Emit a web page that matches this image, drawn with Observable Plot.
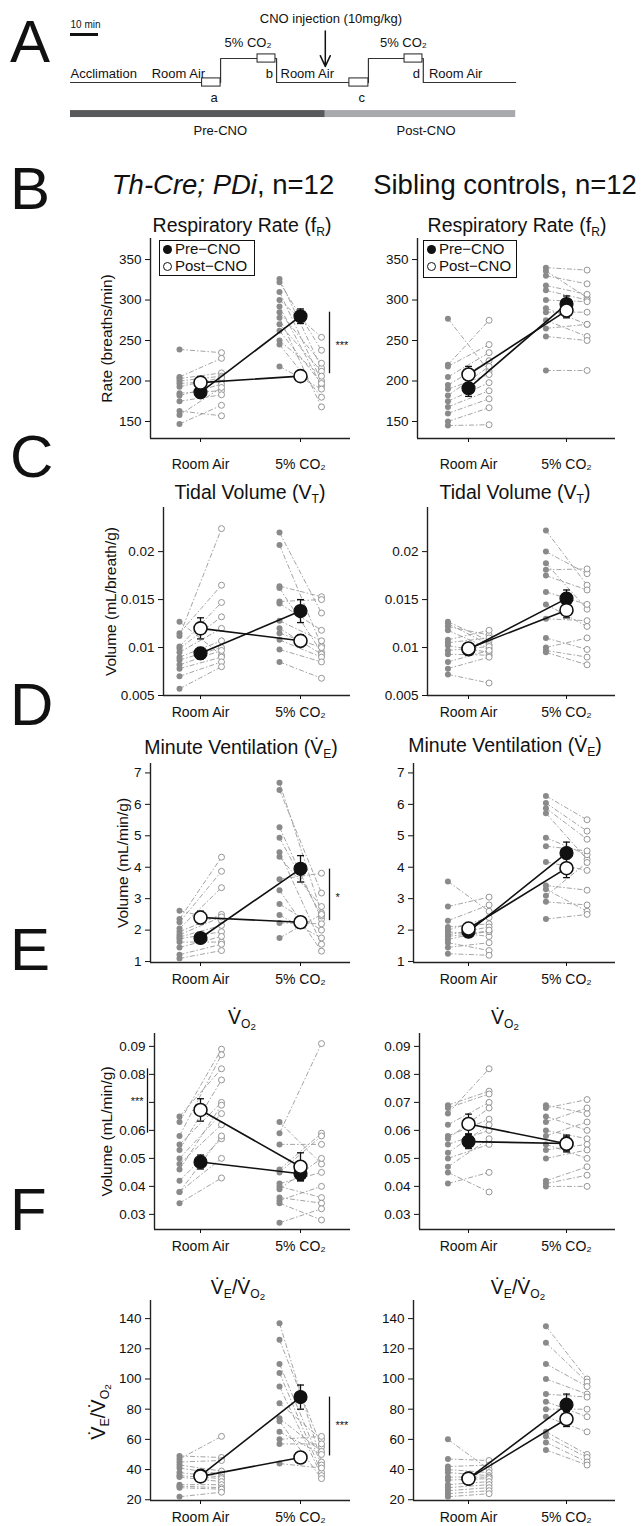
<!DOCTYPE html>
<html><head><meta charset="utf-8">
<script src="https://cdn.jsdelivr.net/npm/d3@7"></script>
<script src="https://cdn.jsdelivr.net/npm/@observablehq/plot@0.6"></script>
<style>
body{margin:0;background:#fff;font-family:"Liberation Sans",Arial,sans-serif;color:#111;}
#fig{position:relative;width:641px;height:1526px;overflow:hidden;background:#fff;}
.t{position:absolute;transform:translate(-50%,-50%);white-space:nowrap;line-height:1;}
.ttl{font-size:19.5px;}
.hdr{font-size:27.5px;}
.let{position:absolute;font-size:60px;line-height:1;transform:translateY(-50%);}
sub{font-size:0.62em;vertical-align:-0.35em;line-height:0;}
sub sub{font-size:0.8em;vertical-align:-0.2em;}
.leg{position:absolute;border:1.5px solid #111;font-size:15px;line-height:16.5px;padding:0 3px;box-sizing:border-box;white-space:nowrap;}
.leg span.c{display:inline-block;width:9px;height:9px;border-radius:50%;margin-right:3px;vertical-align:0px;box-sizing:border-box;}
</style></head>
<body><div id="fig"></div>
<script>
// ---------- Data ----------
const conditions = ["Room Air", "5% CO₂"];
// each row = one animal: [pre-CNO room air, post-CNO room air, pre-CNO 5% CO2, post-CNO 5% CO2]
const rateThCre = [[239,235,326,216],[205,228,322,238],[203,210,310,200],[200,206,300,254],[197,200,292,194],[193,204,285,222],[185,188,278,168],[182,196,270,212],[175,183,262,197],[163,157,250,206],[158,192,245,180],[147,170,218,190]];
const rateThCreMean = [186, 198, 280, 206];
const rateThCreSem = [6, 7, 9, 5];
const rateSib = [[277,212,340,337],[220,275,336,303],[218,245,330,320],[205,235,318,307],[195,225,312,300],[190,208,300,298],[182,218,290,270],[175,198,285,285],[168,188,275,255],[160,178,265,270],[150,167,255,250],[145,146,213,213]];
const rateSibMean = [191, 208, 295, 287];
const rateSibSem = [10, 10, 10, 9];

const vtThCre = [[0.0112,0.0224,0.022,0.0136],[0.0127,0.0092,0.0207,0.0102],[0.0115,0.0165,0.0164,0.0153],[0.0101,0.0147,0.0162,0.0095],[0.0099,0.0132,0.0148,0.015],[0.0095,0.012,0.0146,0.0118],[0.009,0.0107,0.0128,0.0107],[0.0087,0.01,0.012,0.0093],[0.0082,0.0097,0.0115,0.01],[0.0078,0.009,0.0108,0.009],[0.007,0.0085,0.0098,0.0085],[0.0057,0.008,0.0085,0.0068]];
const vtThCreMean = [0.0094, 0.0120, 0.0138, 0.0107];
const vtThCreSem = [0.0006, 0.0011, 0.0012, 0.0006];
const vtSib = [[0.0127,0.0107,0.0222,0.0165],[0.0125,0.0103,0.02,0.0177],[0.0122,0.0113,0.0188,0.014],[0.0118,0.0099,0.0181,0.0182],[0.0108,0.0118,0.0175,0.016],[0.0105,0.011,0.0158,0.0145],[0.0102,0.0095,0.0145,0.0122],[0.0097,0.0101,0.013,0.0128],[0.0093,0.0092,0.011,0.0098],[0.0085,0.0097,0.01,0.011],[0.0078,0.009,0.0097,0.009],[0.0072,0.0063,0.0095,0.0082]];
const vtSibMean = [0.0098, 0.0099, 0.0151, 0.0139];
const vtSibSem = [0.0005, 0.0004, 0.0009, 0.0008];

const veThCre = [[2.62,2.3,6.69,2.55],[2.35,4.32,6.46,3.18],[2.25,3.87,5.27,2.35],[2.05,3.35,4.94,2.45],[1.95,2.5,4.48,1.55],[1.85,2.42,4.33,2.75],[1.78,2.15,3.62,3.81],[1.72,1.95,3.27,1.33],[1.62,1.62,2.83,2.0],[1.45,1.8,2.48,1.75],[1.22,1.55,2.23,2.2],[1.1,1.35,1.75,2.5]];
const veThCreMean = [1.75, 2.4, 3.95, 2.25];
const veThCreSem = [0.13, 0.2, 0.42, 0.15];
const veSib = [[3.55,2.6,6.27,5.51],[2.75,3.05,6.04,5.15],[2.3,2.8,5.88,4.89],[2.1,2.2,5.72,4.25],[2.0,2.4,4.94,4.4],[1.95,1.8,4.67,4.52],[1.85,2.1,4.17,3.9],[1.8,1.95,3.42,3.27],[1.7,2.0,3.3,2.6],[1.6,1.35,3.09,4.15],[1.45,1.6,2.9,2.8],[1.25,1.2,2.35,2.5]];
const veSibMean = [1.95, 2.05, 4.45, 3.97];
const veSibSem = [0.15, 0.15, 0.35, 0.3];

const vo2ThCre = [[0.065,0.082,0.063,0.048],[0.063,0.089,0.059,0.091],[0.058,0.087,0.055,0.055],[0.055,0.07,0.046,0.059],[0.053,0.078,0.045,0.058],[0.05,0.066,0.041,0.045],[0.048,0.062,0.04,0.036],[0.046,0.069,0.039,0.05],[0.042,0.057,0.036,0.034],[0.038,0.058,0.035,0.04],[0.038,0.05,0.034,0.028],[0.034,0.043,0.027,0.032]];
const vo2ThCreMean = [0.0487, 0.0673, 0.0445, 0.047];
const vo2ThCreSem = [0.0025, 0.004, 0.0025, 0.005];
const vo2Sib = [[0.069,0.074,0.069,0.066],[0.068,0.073,0.068,0.071],[0.066,0.082,0.065,0.06],[0.062,0.07,0.063,0.068],[0.058,0.064,0.06,0.057],[0.057,0.068,0.058,0.063],[0.055,0.06,0.055,0.05],[0.052,0.062,0.053,0.055],[0.05,0.055,0.05,0.053],[0.047,0.057,0.042,0.047],[0.045,0.038,0.041,0.044],[0.041,0.045,0.04,0.04]];
const vo2SibMean = [0.056, 0.0623, 0.0553, 0.0552];
const vo2SibSem = [0.0025, 0.0035, 0.003, 0.0025];

const ratioThCre = [[49,48,137,45],[47,62,126,55],[45,46,110,43],[43,39,104,38],[41,37,95,36],[38,35,84,60],[36,34,74,52],[35,32,72,34],[30,30,65,50],[29,28,60,62],[28,27,57,57],[22,25,44,41]];
const ratioThCreMean = [36, 35.5, 88, 48];
const ratioThCreSem = [2.5, 2.8, 8, 3];
const ratioSib = [[60,40,135,100],[47,46,124,98],[42,43,110,95],[40,38,100,90],[38,36,90,88],[35,35,85,75],[33,34,80,80],[30,32,75,65],[28,30,65,50],[26,28,62,48],[24,26,58,45],[22,24,53,43]];
const ratioSibMean = [34, 34, 83, 73.5];
const ratioSibSem = [3, 2, 7, 5];

// tick values
const rateTicks = [150, 200, 250, 300, 350];
const vtTicks = [0.005, 0.01, 0.015, 0.02];
const veTicks = [1, 2, 3, 4, 5, 6, 7];
const vo2Ticks = [0.03, 0.04, 0.05, 0.06, 0.07, 0.08, 0.09];
const ratioTicks = [20, 40, 60, 80, 100, 120, 140];

// protocol (panel A), times in minutes
const protocolTrace = [{t:0,level:0},{t:53.6,level:1},{t:73.6,level:0},{t:106.4,level:1},{t:126,level:0},{t:159,level:0}];
const recordWindows = [{start:47,end:53.6,level:0,label:"a"},{start:66.8,end:73.2,level:1,label:"b"},{start:99.6,end:106.4,level:0,label:"c"},{start:119.3,end:125.7,level:1,label:"d"}];
const phaseLabels = [{t:0,level:0,label:"Acclimation"},{t:29,level:0,label:"Room Air"},{t:75,level:0,label:"Room Air"},{t:128,level:0,label:"Room Air"}];
const gasLabels = [{t:55,level:1,label:"5% CO₂"},{t:110.5,level:1,label:"5% CO₂"}];
const cnoPeriods = [{start:0,end:91,label:"Pre-CNO",fill:"#58595b"},{start:91,end:159,label:"Post-CNO",fill:"#a7a9ac"}];
const injectionTime = 91;

// ---------- Drawing ----------
const fig = document.getElementById("fig");
const FONT = "'Liberation Sans', Arial, sans-serif";
function place(el, left, top) {
  el.style.position = "absolute"; el.style.left = left + "px"; el.style.top = top + "px";
  fig.appendChild(el); return el;
}
function html(cls, inner, x, y, extra) {
  const d = document.createElement("div"); d.className = cls; d.innerHTML = inner;
  if (extra) Object.assign(d.style, extra);
  return place(d, x, y);
}

// Panel A
{
  const p = Plot.plot({
    width: 641, height: 150, margin: 0,
    x: {domain: [-25, 203.93], range: [0, 641], axis: null},
    y: {domain: [0, 1], range: [82, 58], axis: null},
    style: {fontFamily: FONT, fontSize: "13px", color: "#111", background: "white", overflow: "visible"},
    marks: [
      Plot.ruleY([{a:0,b:10}], {x1:"a", x2:"b", y:2, stroke:"#111", strokeWidth:3}),
      Plot.text(["10 min"], {x:0, y:2, text:d=>d, dy:-10, textAnchor:"start", fontSize:10}),
      Plot.line(protocolTrace, {x:"t", y:"level", curve:"step-after", stroke:"#333", strokeWidth:1.2}),
      Plot.rect(recordWindows, {x1:"start", x2:"end", y1:d=>d.level-0.17, y2:d=>d.level+0.17, fill:"white", stroke:"#222", strokeWidth:1}),
      Plot.text(recordWindows, {x:d=>(d.start+d.end)/2+1, y:"level", text:"label", dy:15, fontSize:13}),
      Plot.text(phaseLabels, {x:"t", y:"level", text:"label", dy:-9, textAnchor:"start", fontSize:13}),
      Plot.text(gasLabels, {x:"t", y:"level", text:"label", dy:-16, textAnchor:"start", fontSize:13}),
      Plot.arrow([injectionTime], {x1:d=>d, x2:d=>d, y1:2.15, y2:0.67, stroke:"#111", strokeWidth:1.5, headLength:12, headAngle:50}),
      Plot.text(["CNO injection (10mg/kg)"], {x:injectionTime+2, y:2.65, text:d=>d, fontSize:13}),
      Plot.rect(cnoPeriods, {x1:"start", x2:"end", y1:-1.17, y2:-1.46, fill:"fill"}),
      Plot.text(cnoPeriods, {x:d=>(d.start+d.end)/2 + (d.start===0?8:2), y:-2, text:"label", fontSize:13})
    ]
  });
  place(p, 0, 0);
}

const OFF = 0.21;
function drawPanel(cfg) {
  const isLeft = cfg.side === "left";
  const svgLeft = isLeft ? 30 : 365;
  const axL = cfg.axL, axR = isLeft ? 350 : 615;
  const tick0 = isLeft ? 200 : 468, unit = isLeft ? 100 : 98;
  const xmin = (axL - tick0) / unit, xmax = (axR - tick0) / unit;
  const mt = 14, mb = 40;
  const width = axR - svgLeft + 20;
  const pts = [], links = [];
  cfg.rows.forEach(r => {
    links.push({x1:-OFF, y1:r[0], x2:OFF, y2:r[1]}, {x1:1-OFF, y1:r[2], x2:1+OFF, y2:r[3]});
    pts.push({x:-OFF, y:r[0], pre:true}, {x:OFF, y:r[1], pre:false}, {x:1-OFF, y:r[2], pre:true}, {x:1+OFF, y:r[3], pre:false});
  });
  const m = cfg.mean, s = cfg.sem;
  const means = [{x:0,y:m[0],s:s[0],pre:true},{x:0,y:m[1],s:s[1],pre:false},{x:1,y:m[2],s:s[2],pre:true},{x:1,y:m[3],s:s[3],pre:false}];
  const caps = means.flatMap(d => [{x:d.x, y:d.y-d.s}, {x:d.x, y:d.y+d.s}]);
  const hidden = cfg.hideTick;
  const marks = [
    Plot.ruleX([xmin], {stroke:"#222", strokeWidth:1.4}),
    Plot.ruleY([cfg.domain[0]], {stroke:"#222", strokeWidth:1.4}),
    Plot.axisY({ticks: cfg.ticks, tickFormat: d => (d === hidden ? "" : String(d)), tickSize: 5, tickPadding: 4, fontSize: 13.5, label: null}),
    Plot.axisX({ticks: [0, 1], tickFormat: i => conditions[i], tickSize: 4, tickPadding: cfg.xPad, fontSize: 14, label: null}),
    Plot.link(links, {x1:"x1", y1:"y1", x2:"x2", y2:"y2", stroke:"#9a9a9a", strokeWidth:0.9, strokeDasharray:"5,2,1.5,2"}),
    Plot.dot(pts.filter(d => d.pre), {x:"x", y:"y", r:3, fill:"#8a8a8a"}),
    Plot.dot(pts.filter(d => !d.pre), {x:"x", y:"y", r:3, fill:"white", stroke:"#8a8a8a", strokeWidth:0.9}),
    Plot.line(means, {x:"x", y:"y", z:"pre", stroke:"#111", strokeWidth:1.6}),
    Plot.ruleX(means, {x:"x", y1:d=>d.y-d.s, y2:d=>d.y+d.s, stroke:"#111", strokeWidth:1.3}),
    Plot.link(caps, {x1:d=>d.x-0.035, x2:d=>d.x+0.035, y1:"y", y2:"y", stroke:"#111", strokeWidth:1.3}),
    Plot.dot(means.filter(d => d.pre), {x:"x", y:"y", r:6.5, fill:"#111", stroke:"#111", strokeWidth:1.2}),
    Plot.dot(means.filter(d => !d.pre), {x:"x", y:"y", r:6.5, fill:"white", stroke:"#111", strokeWidth:1.6})
  ];
  if (isLeft && cfg.label) {
    marks.push(Plot.text([cfg.label], {text: d => d, frameAnchor: "left", textAnchor: "middle", lineAnchor: "middle", rotate: -90, dx: cfg.labelDx, fontSize: 15.5, fill: "#111"}));
  }
  if (cfg.sig) {
    const g = cfg.sig;
    marks.push(Plot.ruleX([g], {x:"x", y1:"y1", y2:"y2", stroke:"#111", strokeWidth:1.3}));
    marks.push(Plot.text([g], {x:"tx", y:"ty", text:"label", textAnchor:g.anchor, fontSize:11}));
  }
  const p = Plot.plot({
    width, height: mt + (cfg.bottom - cfg.top) + mb,
    marginLeft: axL - svgLeft, marginRight: width - (axR - svgLeft), marginTop: mt, marginBottom: mb,
    x: {domain: [xmin, xmax]},
    y: {domain: cfg.domain},
    style: {fontFamily: FONT, fontSize: "14px", color: "#111", background: "transparent", overflow: "visible"},
    marks
  });
  place(p, svgLeft, cfg.top - mt);
}

const rowsCfg = [
  {top:238, bottom:438, domain:[129,376], ticks:rateTicks, label:"Rate (breaths/min)", labelDx:-43, xPad:17, axL:150, axR:417,
   L:[rateThCre, rateThCreMean, rateThCreSem, {x:1.29, y1:209, y2:285, tx:1.35, ty:244, label:"***", anchor:"start"}],
   R:[rateSib, rateSibMean, rateSibSem]},
  {top:507, bottom:695, domain:[0.005,0.0246], ticks:vtTicks, label:"Volume (mL/breath/g)", labelDx:-52, xPad:8, axL:163, axR:427,
   L:[vtThCre, vtThCreMean, vtThCreSem], R:[vtSib, vtSibMean, vtSibSem]},
  {top:763, bottom:962, domain:[0.97,7.3], ticks:veTicks, label:"Volume (mL/min/g)", labelDx:-27, xPad:8, axL:150, axR:413,
   L:[veThCre, veThCreMean, veThCreSem, {x:1.29, y1:2.3, y2:3.94, tx:1.35, ty:3.05, label:"*", anchor:"start"}],
   R:[veSib, veSibMean, veSibSem]},
  {top:1033, bottom:1229, domain:[0.0246,0.0946], ticks:vo2Ticks, label:"Volume (mL/min/g)", labelDx:-47, xPad:8, axL:154, axR:419, hideTick:0.07,
   L:[vo2ThCre, vo2ThCreMean, vo2ThCreSem, {x:-0.53, y1:0.059, y2:0.082, tx:-0.57, ty:0.0705, label:"***", anchor:"end"}],
   R:[vo2Sib, vo2SibMean, vo2SibSem]},
  {top:1300, bottom:1500, domain:[19.5,152], ticks:ratioTicks, label:null, labelDx:-52, xPad:8, axL:150, axR:413,
   L:[ratioThCre, ratioThCreMean, ratioThCreSem, {x:1.29, y1:49, y2:88, tx:1.35, ty:69, label:"***", anchor:"start"}],
   R:[ratioSib, ratioSibMean, ratioSibSem]}
];
for (const r of rowsCfg) {
  drawPanel({side:"left", axL:r.axL, top:r.top, bottom:r.bottom, domain:r.domain, ticks:r.ticks, label:r.label, labelDx:r.labelDx, xPad:r.xPad,
    rows:r.L[0], mean:r.L[1], sem:r.L[2], sig:r.L[3], hideTick:r.hideTick});
  drawPanel({side:"right", axL:r.axR, top:r.top, bottom:r.bottom, domain:r.domain, ticks:r.ticks, xPad:r.xPad,
    rows:r.R[0], mean:r.R[1], sem:r.R[2]});
}

// Text: panel letters, headers, titles, legends
const Vd = "V&#x0307;";
const letters = [["A",42],["B",189],["C",457],["D",705],["E",950],["F",1210]];
letters.forEach(([l,y]) => html("let", l, 10, y));
html("t hdr", "<i>Th-Cre; PDi</i>, n=12", 223, 185);
html("t hdr", "Sibling controls, n=12", 505, 185);
const titles = [
  ["Respiratory Rate (f<sub>R</sub>)", 242, 226, 517, 226],
  ["Tidal Volume (V<sub>T</sub>)", 250, 493, 515, 493],
  ["Minute Ventilation (" + Vd + "<sub>E</sub>)", 241, 748, 505, 746],
  [Vd + "<sub>O<sub>2</sub></sub>", 242, 1018, 505, 1018],
  [Vd + "<sub>E</sub>/" + Vd + "<sub>O<sub>2</sub></sub>", 238, 1288, 518, 1288]
];
titles.forEach(([t,x1,y1,x2,y2]) => { html("t ttl", t, x1, y1); html("t ttl", t, x2, y2); });
html("t", Vd + "<sub>E</sub>/" + Vd + "<sub>O<sub>2</sub></sub>", 98, 1412, {fontSize:"20px", transform:"translate(-50%,-50%) rotate(-90deg)"});
const legendHTML = '<div><span class="c" style="background:#111"></span>Pre\u2212CNO</div><div><span class="c" style="border:1px solid #111;background:#fff"></span>Post\u2212CNO</div>';
html("leg", legendHTML, 159, 240, {width:"96px", height:"36px"});
html("leg", legendHTML, 423, 240, {width:"94px", height:"38px"});
</script></body></html>
